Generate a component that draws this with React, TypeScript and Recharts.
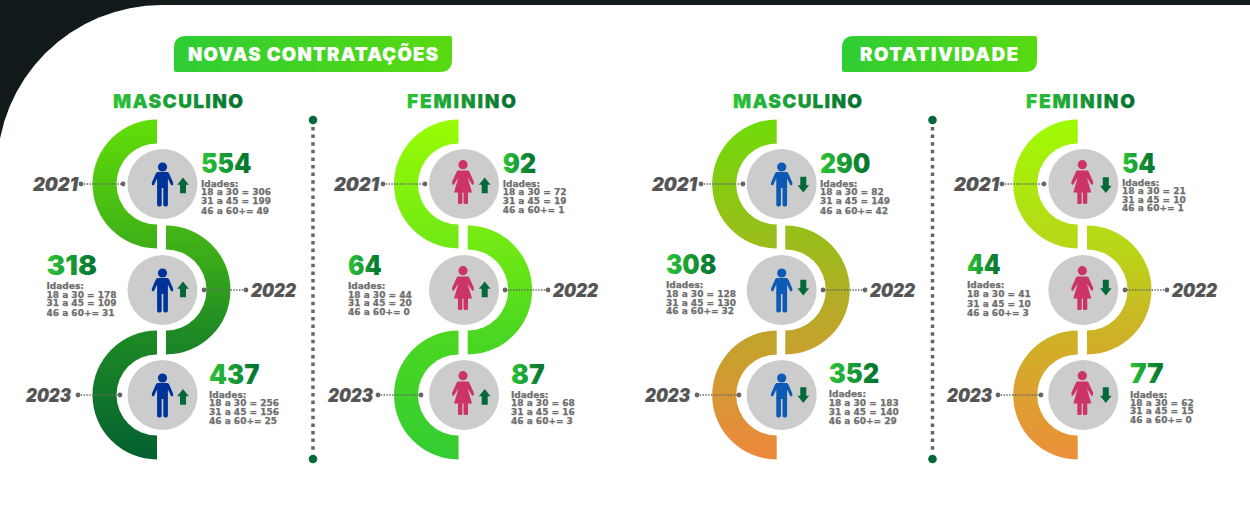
import React from 'react';
import { PieChart, Pie } from 'recharts';

const years = ['2021', '2022', '2023'];

const contratacoesMasculino = [554, 318, 437];
const contratacoesFeminino = [92, 64, 87];
const rotatividadeMasculino = [290, 308, 352];
const rotatividadeFeminino = [54, 44, 77];

const contrMasc18a30 = [306, 178, 256];
const contrMasc31a45 = [199, 109, 156];
const contrMasc46a60 = [49, 31, 25];
const contrFem18a30 = [72, 44, 68];
const contrFem31a45 = [19, 20, 16];
const contrFem46a60 = [1, 0, 3];
const rotMasc18a30 = [82, 128, 183];
const rotMasc31a45 = [149, 130, 140];
const rotMasc46a60 = [42, 32, 29];
const rotFem18a30 = [21, 41, 62];
const rotFem31a45 = [10, 10, 15];
const rotFem46a60 = [1, 3, 0];

const ROW_Y = [184, 290, 395];
const TEXT = '#6E6E6E';
const DARK_GREEN = '#04693A';

type Panel = {
  id: string; title: string; titleX: number; titleW: number;
  totals: number[]; a: number[]; b: number[]; c: number[];
  female: boolean; up: boolean; person: string;
  arcL: number; arcR: number; cx: number; arrowX: number;
  stops: [number, string][];
  textX: number[]; numBase: number[]; lines: number[][];
  yearX: number[]; dotA: number[]; dotB: number[]; arrowY: number[];
};

const panels: Panel[] = [
  {
    id: 'g1', title: 'MASCULINO', titleX: 113, titleW: 130, totals: contratacoesMasculino,
    a: contrMasc18a30, b: contrMasc31a45, c: contrMasc46a60, female: false, up: true, person: '#003399',
    arcL: 157, arcR: 166, cx: 162.5, arrowX: 183,
    stops: [[0, '#62DE09'], [0.38, '#3EAE18'], [0.62, '#1F8B24'], [1, '#046030']],
    textX: [201, 46.5, 209], numBase: [173, 275, 384],
    lines: [[186.5, 195, 204, 214], [289, 297.5, 306, 316], [397.5, 406, 415, 424]],
    yearX: [33, 251, 26], dotA: [81, 246, 78], dotB: [123, 204, 120], arrowY: [185.5, 289.5, 397],
  },
  {
    id: 'g2', title: 'FEMININO', titleX: 407, titleW: 109, totals: contratacoesFeminino,
    a: contrFem18a30, b: contrFem31a45, c: contrFem46a60, female: true, up: true, person: '#CC3366',
    arcL: 458.5, arcR: 467.7, cx: 464, arrowX: 484.7,
    stops: [[0, '#98FC04'], [0.38, '#6FE815'], [0.62, '#4CD820'], [1, '#33CC33']],
    textX: [502.7, 348, 511], numBase: [173, 275, 384],
    lines: [[186.5, 195, 204, 213], [289, 297.5, 306, 315], [398, 406, 415, 424]],
    yearX: [334, 553, 328], dotA: [383, 548, 378], dotB: [425, 505, 421], arrowY: [185.5, 289.5, 397],
  },
  {
    id: 'g3', title: 'MASCULINO', titleX: 733, titleW: 129, totals: rotatividadeMasculino,
    a: rotMasc18a30, b: rotMasc31a45, c: rotMasc46a60, female: false, up: false, person: '#0C5AB4',
    arcL: 776.7, arcR: 785.3, cx: 781.7, arrowX: 803.3,
    stops: [[0, '#6FDB08'], [0.38, '#9DBB1C'], [0.62, '#BFA52B'], [1, '#EE883C']],
    textX: [820, 666, 828.7], numBase: [173, 274, 383],
    lines: [[186.5, 195, 204, 214], [288, 297, 306, 314], [397, 406, 415, 424]],
    yearX: [652, 870, 645], dotA: [701, 865, 697], dotB: [743, 823, 739], arrowY: [184.5, 287.5, 395],
  },
  {
    id: 'g4', title: 'FEMININO', titleX: 1026, titleW: 109, totals: rotatividadeFeminino,
    a: rotFem18a30, b: rotFem31a45, c: rotFem46a60, female: true, up: false, person: '#CC3366',
    arcL: 1077.7, arcR: 1087, cx: 1083.3, arrowX: 1105.8,
    stops: [[0, '#9EFB04'], [0.38, '#B9D618'], [0.62, '#CDB325'], [1, '#EC8F3A']],
    textX: [1122, 967, 1130], numBase: [173, 274, 383],
    lines: [[186, 194, 203, 211], [288, 297, 306.5, 316], [397.5, 405.5, 414, 423]],
    yearX: [954, 1172, 947], dotA: [1002, 1167, 998], dotB: [1044, 1125, 1041], arrowY: [185, 287.5, 395],
  },
];

const Person = ({ x, y, female, color }: { x: number; y: number; female: boolean; color: string }) => (
  <g transform={`translate(${x},${y})`} fill={color}>
    {female ? (
      <>
        <circle cx={-1} cy={-19.3} r={4.6} />
        <path d="M-6,-13.5 H4 L5,-13 L9.8,-2.5 Q10.4,1.5 8,0.5 L3.6,-6.5 L8,8.5 H-10 L-5.6,-6.5 L-10,0.5 Q-12.4,1.5 -11.8,-2.5 L-7,-13 Z" />
        <rect x={-6} y={7} width={4.4} height={13} rx={1.6} />
        <rect x={-0.4} y={7} width={4.4} height={13} rx={1.6} />
      </>
    ) : (
      <>
        <circle cx={0} cy={-17} r={4.6} />
        <path d="M-5,-12 H5 Q6,-12 6.8,-10.2 L10.6,-1.6 Q11.2,1.8 8.6,1.2 L5.4,-5.5 V4 H-5.4 V-5.5 L-8.6,1.2 Q-11.2,1.8 -10.6,-1.6 L-6.8,-10.2 Q-6,-12 -5,-12 Z" />
        <rect x={-5.4} y={2} width={4.6} height={20.5} rx={1.8} />
        <rect x={0.8} y={2} width={4.6} height={20.5} rx={1.8} />
      </>
    )}
  </g>
);

const Arrow = ({ x, y, up }: { x: number; y: number; up: boolean }) => (
  <path
    transform={`translate(${x},${y}) scale(1,${up ? 1 : -1})`}
    fill={DARK_GREEN}
    d="M0,-8 L5.8,-0.8 H3 V7.8 H-3 V-0.8 H-5.8 Z"
  />
);

const Badge = ({ x, w, text, textX, textW, id }: { x: number; w: number; text: string; textX: number; textW: number; id: string }) => (
  <g>
    <path
      d={`M${x + 12},36 H${x + w - 2} Q${x + w},36 ${x + w},38 V60 Q${x + w},72 ${x + w - 12},72 H${x + 2} Q${x},72 ${x},70 V48 Q${x},36 ${x + 12},36 Z`}
      fill={`url(#${id})`}
    />
    <text x={textX} y={61} fill="#FFFFFF" stroke="#FFFFFF" strokeWidth={0.2} fontFamily="Inter" fontWeight={900} fontSize={18.5} textLength={textW} lengthAdjust="spacing">
      {text}
    </text>
  </g>
);

const Divider = ({ x }: { x: number }) => (
  <g>
    <line x1={x} x2={x} y1={127} y2={453} stroke="#666666" strokeWidth={3.5} strokeDasharray="3.5 4.1" />
    <circle cx={x} cy={120} r={4.3} fill={DARK_GREEN} />
    <circle cx={x} cy={459} r={4.3} fill={DARK_GREEN} />
  </g>
);

export default function App() {
  return (
    <div style={{ position: 'absolute', left: 0, top: 0, width: 1250, height: 520, overflow: 'hidden', background: '#131A1B' }}>
      <div style={{ position: 'absolute', left: -3, top: 5, width: 1400, height: 700, background: '#FFFFFF', borderTopLeftRadius: 165 }} />
      <PieChart width={1250} height={520} margin={{ top: 0, right: 0, bottom: 0, left: 0 }} style={{ position: 'absolute', left: 0, top: 0 }}>
        <defs>
          {panels.map((p) => (
            <linearGradient key={p.id} id={`arc-${p.id}`} gradientUnits="userSpaceOnUse" x1={0} x2={0} y1={120} y2={459}>
              {p.stops.map(([o, c]) => (
                <stop key={o} offset={o} stopColor={c} />
              ))}
            </linearGradient>
          ))}
        </defs>

        {panels.flatMap((p) =>
          p.totals.map((value, i) => {
            const left = i !== 1;
            return (
              <Pie
                key={`${p.id}-${years[i]}`}
                data={[{ name: years[i], value }]}
                dataKey="value"
                nameKey="name"
                cx={left ? p.arcL : p.arcR}
                cy={ROW_Y[i]}
                innerRadius={40.5}
                outerRadius={64.5}
                startAngle={90}
                endAngle={left ? 270 : -90}
                paddingAngle={0}
                stroke="none"
                fill={`url(#arc-${p.id})`}
                isAnimationActive={false}
                legendType="none"
              />
            );
          })
        )}
      </PieChart>

      <svg width={1250} height={520} style={{ position: 'absolute', left: 0, top: 0 }}>
        <defs>
          <linearGradient id="textGreen" x1="0" x2="1" y1="0" y2="0">
            <stop offset="0" stopColor="#2CC43A" />
            <stop offset="1" stopColor="#04702F" />
          </linearGradient>
          <linearGradient id="badge1" x1="0" x2="1" y1="0" y2="0">
            <stop offset="0" stopColor="#2ECD35" />
            <stop offset="1" stopColor="#58DA10" />
          </linearGradient>
        </defs>
        <Badge x={174} w={278} text="NOVAS CONTRATAÇÕES" textX={188} textW={250} id="badge1" />
        <Badge x={842} w={195} text="ROTATIVIDADE" textX={860} textW={158} id="badge1" />
        <Divider x={313} />
        <Divider x={932.5} />
        {panels.map((p) => (
          <g key={p.id}>
            <text x={p.titleX} y={108} fill="url(#textGreen)" stroke="url(#textGreen)" strokeWidth={0.25} fontFamily="Inter" fontWeight={900} fontSize={19} textLength={p.titleW} lengthAdjust="spacing">
              {p.title}
            </text>
            {p.totals.map((value, i) => (
              <g key={years[i]}>
                <circle cx={p.cx} cy={ROW_Y[i]} r={35} fill="#CCCCCC" />
                <Person x={p.cx} y={ROW_Y[i]} female={p.female} color={p.person} />
                <Arrow x={p.arrowX} y={p.arrowY[i]} up={p.up} />
                <line x1={p.dotA[i]} x2={p.dotB[i]} y1={ROW_Y[i]} y2={ROW_Y[i]} stroke="#666666" strokeWidth={1.4} strokeDasharray="1.4 1.4" />
                <circle cx={p.dotA[i]} cy={ROW_Y[i]} r={2.4} fill="#666666" />
                <circle cx={p.dotB[i]} cy={ROW_Y[i]} r={2.4} fill="#666666" />
                <text x={p.yearX[i]} y={ROW_Y[i] + 7} fill="#555555" stroke="#555555" strokeWidth={0.2} fontFamily="Inter" fontWeight={900} fontStyle="italic" fontSize={18.5} textLength={45} lengthAdjust="spacingAndGlyphs">
                  {years[i]}
                </text>
                <text x={p.textX[i]} y={p.numBase[i]} fill="url(#textGreen)" fontFamily="Inter" fontWeight={900} fontSize={27} textLength={String(value).length * 16.8} lengthAdjust="spacingAndGlyphs">
                  {value}
                </text>
                <g fill={TEXT} stroke={TEXT} strokeWidth={0.25} fontFamily="DejaVu Sans" fontWeight={700} fontSize={9}>
                  <text x={p.textX[i]} y={p.lines[i][0]}>Idades:</text>
                  <text x={p.textX[i]} y={p.lines[i][1]}>{`18 a 30 = ${p.a[i]}`}</text>
                  <text x={p.textX[i]} y={p.lines[i][2]}>{`31 a 45 = ${p.b[i]}`}</text>
                  <text x={p.textX[i]} y={p.lines[i][3]}>{`46 a 60+= ${p.c[i]}`}</text>
                </g>
              </g>
            ))}
          </g>
        ))}
      </svg>
    </div>
  );
}
